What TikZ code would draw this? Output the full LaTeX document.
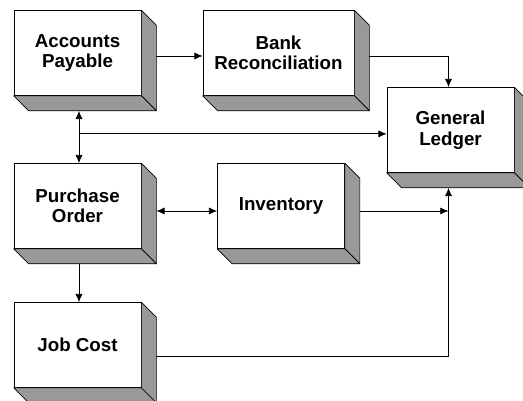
\documentclass[tikz,border=0pt]{standalone}
\usepackage{xcolor}
\usepackage{fontspec}
\setmainfont{Liberation Sans}
\usetikzlibrary{calc,arrows.meta}

\definecolor{sidegray}{RGB}{153,153,153}

\begin{document}
\begin{tikzpicture}[x=0.03cm,y=-0.03cm,
                    box/.style={shape=rectangle,draw=black,fill=white,line width=0.6pt,
                        inner sep=0pt,minimum width=3.81cm,minimum height=2.55cm,
                        align=center,font=\fontsize{16}{17.5}\selectfont\bfseries},
                    link/.style={line width=0.6pt,-{Latex[length=7pt,width=6pt]}},
                    both/.style={line width=0.6pt,{Latex[length=7pt,width=6pt]}-{Latex[length=7pt,width=6pt]}}]
                    \useasboundingbox (0,0) rectangle (523,401);
                    \node[box] (ap) at (77.5,53) {Accounts\\Payable};
                    \node[box,minimum width=4.53cm] (bank) at (278.5,53) {Bank\\Reconciliation};
                    \node[box] (gl) at (450.5,130) {General\\Ledger};
                    \node[box] (po) at (77.5,206) {Purchase\\Order};
                    \node[box] (inv) at (281,206) {Inventory};
                    \node[box] (jc) at (77.5,345) {Job Cost};

                    % grey sides of the boxes
                    \foreach \n in {ap,bank,gl,po,inv,jc} {
                        \filldraw[fill=sidegray,draw=black,line width=0.6pt,line join=round]
                            (\n.north east) -- ++(15,15) -- ($(\n.south east)+(15,15)$) -- (\n.south east) -- cycle;
                        \filldraw[fill=sidegray,draw=black,line width=0.6pt,line join=round]
                            (\n.south west) -- ++(15,15) -- ($(\n.south east)+(15,15)$) -- (\n.south east) -- cycle;
                    }

                    \coordinate (apjoin) at ($(ap.south)+(1.5,38)$);
                    \coordinate (invout) at ($(inv.east)+(15,5)$);
                    \coordinate (gljoin) at ($(gl.south)+(-2,15)$);

                    \draw[link] ($(ap.east)+(15,3)$) -- ($(bank.west)+(0,3)$);
                    \draw[link] ($(bank.east)+(15,3)$) -| ($(gl.north)+(-2,0)$);
                    \draw[both] ($(ap.south)+(1.5,15)$) -- ($(po.north)+(1.5,0)$);
                    \draw[link] (apjoin) -- (gl.west |- apjoin);
                    \draw[both] ($(po.east)+(15,5)$) -- ($(inv.west)+(0,5)$);
                    \draw[link] (invout) -- (invout -| gljoin);
                    \draw[link] ($(po.south)+(1.5,15)$) -- ($(jc.north)+(1.5,0)$);
                    \draw[link] ($(jc.east)+(15,11)$) -| (gljoin);
                \end{tikzpicture}
\end{document}
